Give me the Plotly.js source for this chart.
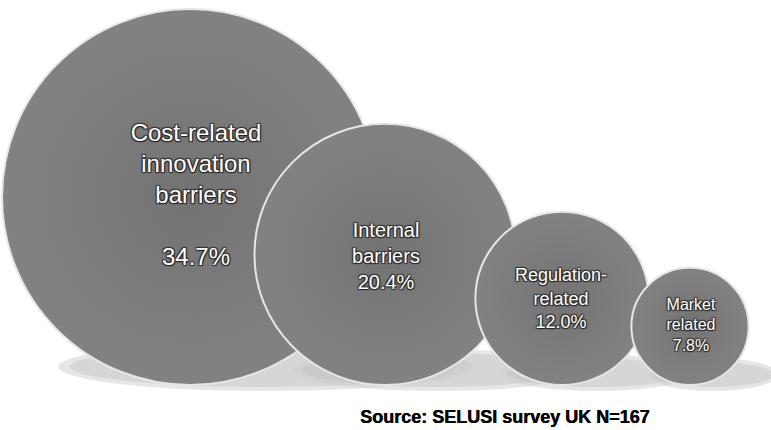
<!DOCTYPE html>
<html><head><meta charset="utf-8">
<script src="https://cdn.plot.ly/plotly-3.0.1.min.js"></script>
<style>html,body{margin:0;padding:0;background:#fff}#chart{width:771px;height:430px}</style>
</head><body><div id="chart"></div>
<script>
// ---- data ----
const categories = ["Cost-related innovation barriers", "Internal barriers", "Regulation-related", "Market related"];
const shares = [34.7, 20.4, 12.0, 7.8];
const labelLines = [["Cost-related", "innovation", "barriers", ""], ["Internal", "barriers"], ["Regulation-", "related"], ["Market", "related"]];
const sourceNote = "Source: SELUSI survey UK N=167";

// ---- layout / style (not data) ----
const centerX = [190, 385, 562, 690];
const baselineY = 385;
const labelFontSize = [24, 20, 18, 16];
const labelShiftX = [6, 1, -1, 1];
const labelShiftY = [0, 4, 2, 0];
function diameterScale(v) { return 83.5 * Math.sqrt(v) - 116; }

const diam = shares.map(diameterScale);
const centerY = diam.map(d => baselineY - d / 2);
const labels = labelLines.map((ls, i) => ls.join("<br>") + "<br>" + shares[i].toFixed(1) + "%");

const bubbles = {
  type: "scatter", mode: "markers",
  x: centerX, y: centerY,
  text: categories, hoverinfo: "none",
  marker: {
    size: diam, sizemode: "diameter", sizeref: 1,
    color: "#828282",
    gradient: {type: "radial", color: "#737373"},
    line: {color: "#e6e6e6", width: 2},
    opacity: 1
  }
};

const textTraces = labels.map((t, i) => ({
  type: "scatter", mode: "text",
  x: [centerX[i] + labelShiftX[i]], y: [centerY[i] + labelShiftY[i]],
  text: [t], textposition: "middle center", hoverinfo: "none",
  textfont: {family: "Liberation Sans, Arial, sans-serif", size: labelFontSize[i], color: "#ffffff",
             shadow: "1px 1px 1px #222, -1px -1px 1px #333, 1px -1px 1px #333, -1px 1px 1px #333"}
}));

const shadows = [];
diam.forEach((d, i) => {
  const r = d / 2;
  const h = 0.12 * r + 20;
  shadows.push({type: "circle", xref: "x", yref: "y", layer: "below",
    x0: centerX[i] - 0.7 * r, x1: centerX[i] + 1.5 * r,
    y0: baselineY - h, y1: baselineY + 6,
    fillcolor: "rgba(205,205,205,0.5)", line: {width: 0}});
  shadows.push({type: "circle", xref: "x", yref: "y", layer: "below",
    x0: centerX[i] - 0.64 * r, x1: centerX[i] + 1.42 * r,
    y0: baselineY - h + 4, y1: baselineY + 2,
    fillcolor: "rgba(190,190,190,0.4)", line: {width: 0}});
});

const layout = {
  width: 771, height: 430,
  margin: {l: 0, r: 0, t: 0, b: 0},
  paper_bgcolor: "#ffffff", plot_bgcolor: "#ffffff",
  showlegend: false,
  xaxis: {range: [0, 771], visible: false, fixedrange: true},
  yaxis: {range: [430, 0], visible: false, fixedrange: true},
  shapes: shadows,
  annotations: [{
    text: "<b>" + sourceNote + "</b>", xref: "x", yref: "y", x: 358, y: 417,
    xanchor: "left", yanchor: "middle", showarrow: false,
    font: {family: "Liberation Sans, Arial, sans-serif", size: 18, color: "#000000",
           shadow: "0.5px 0 0 #000"}
  }]
};

Plotly.newPlot("chart", [bubbles].concat(textTraces), layout, {displayModeBar: false, staticPlot: true});
</script>
</body></html>
